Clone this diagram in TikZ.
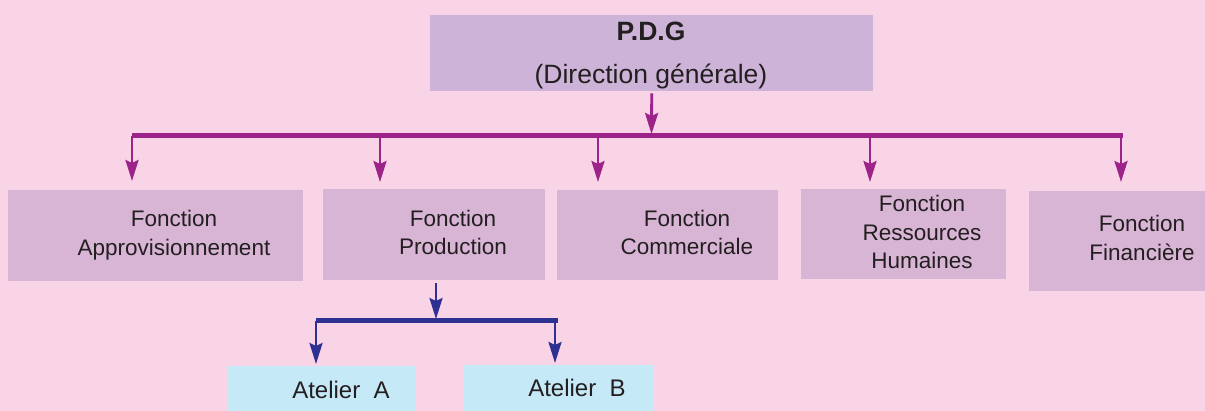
\documentclass[tikz,border=0pt]{standalone}
\usepackage{fontspec}
\setmainfont{Liberation Sans}
\usetikzlibrary{arrows.meta}
\definecolor{bgpink}{HTML}{F9D3E6}
\definecolor{topfill}{HTML}{CDB3D7}
\definecolor{fnfill}{HTML}{D8B4D5}
\definecolor{atfill}{HTML}{C6E9F8}
\definecolor{purp}{HTML}{9C2389}
\definecolor{navy}{HTML}{2E3192}
\definecolor{txt}{HTML}{231F20}
\begin{document}
\begin{tikzpicture}[x=1pt,y=-1pt,
  topbox/.style={fill=topfill, inner sep=0pt, anchor=north west},
  toplabel/.style={align=center, inner sep=0pt, text=txt, font=\fontsize{26.5}{32}\selectfont},
  fnbox/.style={fill=fnfill, inner sep=0pt, anchor=north west},
  atbox/.style={fill=atfill, inner sep=0pt, anchor=north west},
  fnlabel/.style={align=center, inner sep=0pt, text=txt, font=\fontsize{22.5}{28.5}\selectfont},
  atlabel/.style={inner sep=0pt, text=txt, font=\fontsize{24}{29}\selectfont},
  purpbar/.style={draw=purp, line width=5pt},
  purparrow/.style={draw=purp, line width=2.8pt, -{Stealth[length=21pt,width=13pt,inset=3pt]}},
  navybar/.style={draw=navy, line width=5pt},
  navyarrow/.style={draw=navy, line width=2.8pt, -{Stealth[length=21pt,width=13pt,inset=3pt]}}
]
\useasboundingbox[fill=bgpink] (0,0) rectangle (1205,411);

% top box
\node[topbox, minimum width=443pt, minimum height=76pt] (pdg) at (430,15) {};
\node[toplabel] (pdgtxt) at (651,55.5) {\textbf{P.D.G}\\[11pt](Direction générale)};

% function boxes
\node[fnbox, minimum width=295pt, minimum height=91pt] (appro) at (8,190) {};
\node[fnlabel] (approtxt) at (174,235) {Fonction\\Approvisionnement};
\node[fnbox, minimum width=222pt, minimum height=91pt] (prod) at (323,189) {};
\node[fnlabel] (prodtxt) at (453,232.7) {Fonction\\Production};
\node[fnbox, minimum width=221pt, minimum height=90pt] (comm) at (557,190) {};
\node[fnlabel] (commtxt) at (687,232.7) {Fonction\\Commerciale};
\node[fnbox, minimum width=205pt, minimum height=90pt] (rh) at (801,189) {};
\node[fnlabel] (rhtxt) at (922,232.3) {Fonction\\Ressources\\Humaines};
\node[fnbox, minimum width=176pt, minimum height=100pt] (fin) at (1029,191) {};
\node[fnlabel] (fintxt) at (1142,237.8) {Fonction\\Financière};

% ateliers
\node[atbox, minimum width=189pt, minimum height=45pt] (atA) at (227,366) {};
\node[atlabel] (atAtxt) at (341,390) {Atelier\ \ A};
\node[atbox, minimum width=189pt, minimum height=46pt] (atB) at (464,365) {};
\node[atlabel] (atBtxt) at (577,388) {Atelier\ \ B};

% purple connectors
\coordinate (j0) at (651.5,136);
\coordinate (j1) at (132,136);
\coordinate (j2) at (380,136);
\coordinate (j3) at (598,136);
\coordinate (j4) at (870,136);
\coordinate (j5) at (1121,136);
\coordinate (jend) at (1122.5,136);
\draw[purpbar] (j1) -- (jend);
\draw[purparrow, shorten <=2pt, shorten >=2pt] (pdg.south) -- (j0);
\draw[purparrow, shorten >=9pt] (j1) -- (j1 |- appro.north);
\draw[purparrow, shorten >=7pt] (j2) -- (j2 |- prod.north);
\draw[purparrow, shorten >=8pt] (j3) -- (j3 |- comm.north);
\draw[purparrow, shorten >=7pt] (j4) -- (j4 |- rh.north);
\draw[purparrow, shorten >=9pt] (j5) -- (j5 |- fin.north);

% navy connectors
\coordinate (k0) at (436,321);
\coordinate (k1) at (316,321);
\coordinate (k2) at (555,321);
\coordinate (kend) at (558,321);
\draw[navybar] (k1) -- (kend);
\draw[navyarrow, shorten <=3pt, shorten >=2pt] (prod.south -| k0) -- (k0);
\draw[navyarrow, shorten >=2pt] (k1) -- (k1 |- atA.north);
\draw[navyarrow, shorten >=2pt] (k2) -- (k2 |- atB.north);
\end{tikzpicture}
\end{document}
